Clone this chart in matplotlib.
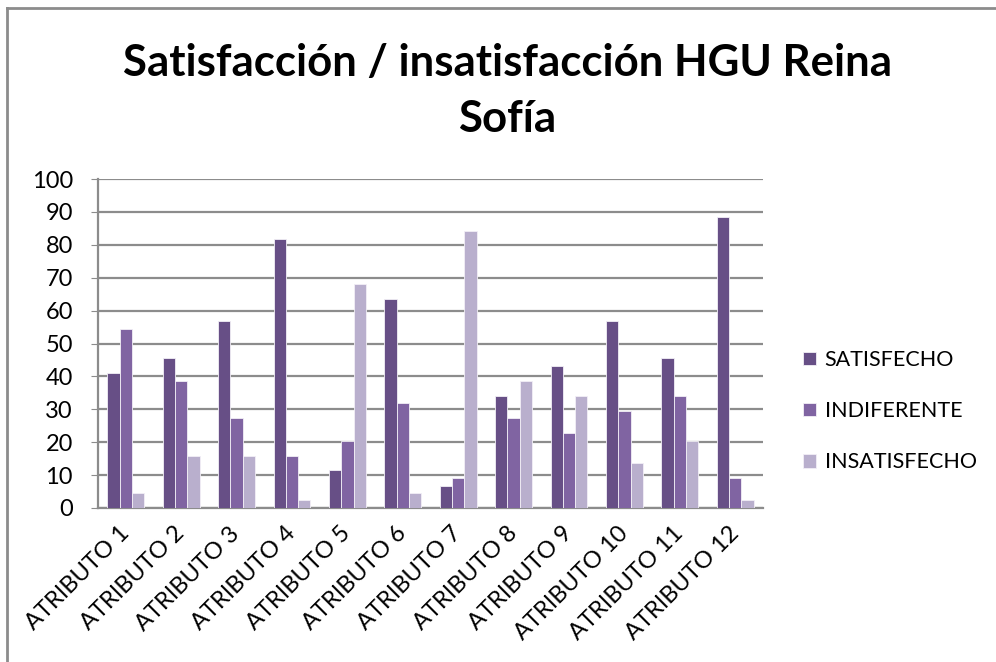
import numpy as np
import matplotlib.pyplot as plt
from matplotlib.lines import Line2D

plt.rcParams['font.family'] = ['Lato', 'DejaVu Sans']

atributos = ['ATRIBUTO %d' % i for i in range(1, 13)]
satisfecho = [40.9, 45.5, 56.8, 81.8, 11.4, 63.6, 6.8, 34.1, 43.2, 56.8, 45.5, 88.6]
indiferente = [54.5, 38.6, 27.3, 15.9, 20.5, 31.8, 9.1, 27.3, 22.7, 29.5, 34.1, 9.1]
insatisfecho = [4.5, 15.9, 15.9, 2.3, 68.2, 4.5, 84.1, 38.6, 34.1, 13.6, 20.5, 2.3]

series = [('SATISFECHO', satisfecho, '#674f86'),
          ('INDIFERENTE', indiferente, '#8064a2'),
          ('INSATISFECHO', insatisfecho, '#b9afcd')]

fig = plt.figure(figsize=(9.96, 6.62), dpi=100)
ax = fig.add_axes([98/996, 1 - 508/662, 665/996, 329/662])

x = np.arange(len(atributos))
w = 0.222
for k, (name, vals, col) in enumerate(series):
    ax.bar(x + (k - 1) * w, vals, w, color=col, edgecolor='#f2eff6',
           linewidth=0.6, label=name, zorder=3)

ax.set_xlim(-0.5, len(atributos) - 0.5)
ax.set_ylim(0, 100)
ax.set_yticks(range(0, 101, 10))
ax.yaxis.grid(True, color='#8c8c8c', linewidth=1.6, zorder=0)
ax.set_axisbelow(True)
for s in ['top', 'right']:
    ax.spines[s].set_visible(False)
for s in ['left', 'bottom']:
    ax.spines[s].set_color('#8c8c8c')
    ax.spines[s].set_linewidth(1.6)
ax.tick_params(axis='y', length=5, color='#8c8c8c', labelsize=17, pad=13)
ax.set_xticks(x)
ax.set_xticklabels(atributos, rotation=45, ha='right', va='center',
                   rotation_mode='anchor', fontsize=17)
ax.tick_params(axis='x', length=0, pad=16)

fig.text(507/996, 1 - 43/662, 'Satisfacción / insatisfacción HGU Reina\nSofía',
         ha='center', va='top', fontsize=31.5, fontweight='bold',
         linespacing=1.5)

fig.legend(loc='upper left', bbox_to_anchor=(803/996, 1 - 350/662),
           frameon=False, fontsize=15.5, handlelength=0.6, handleheight=0.6,
           handletextpad=0.4, labelspacing=1.45, borderpad=0, borderaxespad=0)

# outer frame: only top and left edges visible
fig.add_artist(Line2D([7/996, 7/996], [0, 1 - 8/662], transform=fig.transFigure,
                      color='#8c8c8c', linewidth=2))
fig.add_artist(Line2D([7/996, 1], [1 - 8/662, 1 - 8/662], transform=fig.transFigure,
                      color='#8c8c8c', linewidth=2))

fig.savefig('out.png', dpi=100)
